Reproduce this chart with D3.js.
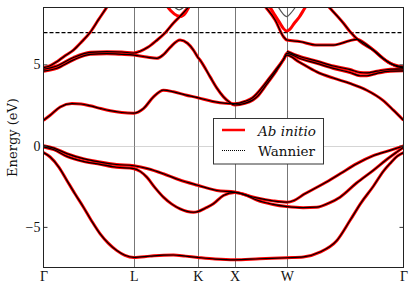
<!DOCTYPE html>
<html>
<head>
<meta charset="utf-8">
<script src="https://cdn.jsdelivr.net/npm/d3@7"></script>
<style>
body { margin:0; background:#fff; }
</style>
</head>
<body>
<div id="svgcontainer"></div>
<script>
var width = 415;
var height = 291;

// high symmetry points on the k-path
var kLabels = ["Γ", "L", "K", "X", "W", "Γ"];
var kTicks = [0, 0.866, 1.478, 1.832, 2.332, 3.450];

var yTicks = [-5, 0, 5];
var fermiLevel = 0;
var windowTop = 6.95;

// bands: [k, energy]; null = outside the plot (gap)
var bandV0 = [[0,-0.43],[0.064,-0.7],[0.15,-1.35],[0.224,-2.14],[0.30,-2.95],[0.383,-3.79],[0.46,-4.62],[0.543,-5.43],[0.62,-6.0],[0.703,-6.46],[0.78,-6.75],[0.866,-6.88],[1.02,-6.8],[1.15,-6.74],[1.245,-6.73],[1.36,-6.8],[1.478,-6.88],[1.645,-6.98],[1.832,-7.03],[2.07,-6.96],[2.332,-6.9],[2.49,-6.85],[2.65,-6.55],[2.81,-5.85],[2.937,-4.61],[3.04,-3.55],[3.161,-2.5],[3.26,-1.55],[3.321,-1.1],[3.39,-0.65],[3.45,-0.43]];
var bandV1 = [[0,-0.08],[0.1,-0.25],[0.224,-0.66],[0.38,-0.97],[0.543,-1.15],[0.7,-1.33],[0.866,-1.42],[0.93,-1.6],[0.99,-1.94],[1.07,-2.6],[1.149,-3.17],[1.23,-3.6],[1.309,-3.89],[1.437,-4.1],[1.478,-4.06],[1.55,-3.85],[1.628,-3.58],[1.724,-3.07],[1.832,-2.88],[1.94,-3.05],[2.044,-3.35],[2.2,-3.62],[2.332,-3.75],[2.488,-3.82],[2.619,-3.79],[2.73,-3.55],[2.842,-3.17],[3.0,-2.3],[3.161,-1.52],[3.28,-0.9],[3.385,-0.4],[3.45,-0.1]];
var bandV2 = [[0,0],[0.1,-0.15],[0.224,-0.49],[0.38,-0.8],[0.543,-1.01],[0.7,-1.16],[0.866,-1.24],[1.0,-1.42],[1.149,-1.73],[1.3,-2.1],[1.478,-2.44],[1.661,-2.76],[1.832,-2.86],[2.044,-3.22],[2.2,-3.4],[2.332,-3.48],[2.4,-3.38],[2.5,-2.98],[2.682,-2.35],[2.85,-1.7],[3.002,-1.11],[3.16,-0.62],[3.321,-0.29],[3.45,-0.02]];
var bandC0 = [[0,1.56],[0.064,1.87],[0.16,2.38],[0.272,2.59],[0.36,2.56],[0.447,2.45],[0.55,2.28],[0.639,2.15],[0.75,2.04],[0.866,2.0],[0.958,2.28],[1.054,3.0],[1.15,3.41],[1.246,3.31],[1.36,3.12],[1.478,2.95],[1.62,2.72],[1.75,2.6],[1.832,2.58],[1.93,2.72],[2.004,2.95],[2.045,3.2],[2.141,3.95],[2.17,4.2],[2.236,4.75],[2.3,5.3],[2.332,5.57],[2.45,5.15],[2.619,4.54],[2.78,4.15],[2.937,3.83],[3.098,3.41],[3.25,2.8],[3.353,2.18],[3.45,1.56]];
var bandC1 = [[0,4.58],[0.128,4.76],[0.287,5.28],[0.447,5.62],[0.607,5.66],[0.75,5.62],[0.866,5.57],[0.99,5.45],[1.086,5.37],[1.15,5.6],[1.214,6.05],[1.309,6.5],[1.38,6.3],[1.437,5.88],[1.478,5.45],[1.5,5.27],[1.597,4.23],[1.66,3.55],[1.725,3.0],[1.78,2.68],[1.832,2.5],[1.93,2.6],[2.004,2.8],[2.045,3.0],[2.141,3.8],[2.17,4.05],[2.236,4.65],[2.3,5.3],[2.332,5.68],[2.45,5.38],[2.62,5.06],[2.779,4.75],[2.938,4.5],[3.034,4.3],[3.1,4.3],[3.195,4.45],[3.322,4.58],[3.45,4.6]];
var bandC2 = [[0,4.7],[0.128,4.9],[0.287,5.42],[0.447,5.74],[0.607,5.78],[0.75,5.76],[0.866,5.7],[0.93,5.82],[1.0,6.05],[1.08,6.45],[1.167,6.95],[1.246,7.55],[1.33,8.1],[1.40,8.6],[1.45,9.0],[1.5,null],[2.05,null],[2.09,8.85],[2.125,8.56],[2.22,7.73],[2.30,6.7],[2.332,6.5],[2.458,6.4],[2.619,6.19],[2.778,6.19],[2.937,6.46],[3.002,6.54],[3.098,6.2],[3.257,5.35],[3.385,4.88],[3.45,4.78]];
var bandC3 = [[0,4.8],[0.064,4.92],[0.128,5.16],[0.2,5.5],[0.287,5.88],[0.367,6.4],[0.447,6.97],[0.527,7.75],[0.607,8.52],[0.64,8.85],[0.7,null],[2.65,null],[2.69,8.85],[2.731,8.56],[2.875,7.53],[2.938,7.01],[3.034,6.4],[3.162,5.88],[3.322,5.06],[3.40,4.9],[3.45,4.85]];
var bandC4 = [[2.332,5.8],[2.45,5.5],[2.62,5.2],[2.779,4.9],[2.938,4.68],[3.034,4.5],[3.1,4.48],[3.195,4.58],[3.322,4.7],[3.45,4.72]];

// parts only one method has (above the frozen window)
var abOnlyW = [[2.14,8.8],[2.172,8.5],[2.22,8.0],[2.27,7.5],[2.30,7.2],[2.332,7.05],[2.36,7.15],[2.40,7.5],[2.45,7.9],[2.508,8.5],[2.54,8.8]];
var abOnlyLK = [[1.16,8.8],[1.22,8.3],[1.28,8.0],[1.32,7.95],[1.36,8.15],[1.40,8.6],[1.43,8.9]];
var wanOnlyW = [[2.24,8.62],[2.252,8.5],[2.29,8.15],[2.332,7.94],[2.37,8.15],[2.412,8.5],[2.425,8.62]];
var wanOnlyLK = [[1.23,8.7],[1.26,8.5],[1.30,8.35],[1.34,8.5],[1.37,8.7]];

var sharedBands = [bandV0, bandV1, bandV2, bandC0, bandC1, bandC2, bandC3, bandC4];
var abInitioBands = sharedBands.concat([abOnlyW, abOnlyLK]);
var wannierBands = sharedBands;
var wannierExtra = [wanOnlyW, wanOnlyLK];

var pLeft = 43.5, pRight = 403.5, pTop = 7.5, pBottom = 267.5;

var x = d3.scaleLinear().domain([0, 3.45]).range([pLeft, pRight]);
var y = d3.scaleLinear().domain([-7.5, 8.5]).range([pBottom, pTop]);

var svg = d3.select("#svgcontainer")
   .append("svg")
   .attr("width", width)
   .attr("height", height)
   .style("display", "block");

svg.append("defs").append("clipPath")
   .attr("id", "plotclip")
   .append("rect")
   .attr("x", pLeft).attr("y", pTop)
   .attr("width", pRight - pLeft).attr("height", pBottom - pTop);

// vertical lines at the special points
svg.append("g")
   .selectAll("line")
   .data(kTicks.slice(1, -1))
   .join("line")
   .attr("x1", d => Math.round(x(d)) + 0.5)
   .attr("x2", d => Math.round(x(d)) + 0.5)
   .attr("y1", pTop)
   .attr("y2", pBottom)
   .attr("stroke", "#777")
   .attr("stroke-width", 1);

// fermi level
svg.append("line")
   .attr("x1", pLeft).attr("x2", pRight)
   .attr("y1", Math.round(y(fermiLevel)) + 0.5)
   .attr("y2", Math.round(y(fermiLevel)) + 0.5)
   .attr("stroke", "#aaa")
   .attr("stroke-dasharray", "1,1");

// frozen window
svg.append("line")
   .attr("x1", pLeft).attr("x2", pRight)
   .attr("y1", y(windowTop)).attr("y2", y(windowTop))
   .attr("stroke", "#000")
   .attr("stroke-width", 1.2)
   .attr("stroke-dasharray", "4,2");

var line = d3.line()
   .defined(d => d[1] != null)
   .x(d => x(d[0]))
   .y(d => y(d[1]))
   .curve(d3.curveMonotoneX);

var bands = svg.append("g").attr("clip-path", "url(#plotclip)");

bands.selectAll("path.ab")
   .data(abInitioBands)
   .join("path")
   .attr("class", "ab")
   .attr("d", line)
   .attr("fill", "none")
   .attr("stroke", "#ff0000")
   .attr("stroke-width", 3);

bands.selectAll("path.wan")
   .data(wannierBands)
   .join("path")
   .attr("class", "wan")
   .attr("d", line)
   .attr("fill", "none")
   .attr("stroke", "#000")
   .attr("stroke-width", 1.2);

bands.selectAll("path.wanx")
   .data(wannierExtra)
   .join("path")
   .attr("class", "wanx")
   .attr("d", line)
   .attr("fill", "none")
   .attr("stroke", "#555")
   .attr("stroke-width", 1.2);

// axes
var yAxis = svg.append("g")
   .attr("transform", "translate(" + pLeft + ",0)")
   .call(d3.axisLeft(y).tickValues(yTicks).tickSizeInner(-4).tickSizeOuter(0).tickPadding(3));
yAxis.select(".domain").remove();
yAxis.selectAll("line").attr("stroke", "#333");
yAxis.selectAll("text")
   .attr("font-family", "Liberation Serif")
   .attr("font-size", 14)
   .attr("fill", "#111");

var yAxisR = svg.append("g")
   .attr("transform", "translate(" + pRight + ",0)")
   .call(d3.axisRight(y).tickValues(yTicks).tickSizeInner(-4).tickSizeOuter(0).tickFormat(""));
yAxisR.select(".domain").remove();
yAxisR.selectAll("line").attr("stroke", "#333");

var xAxis = svg.append("g")
   .attr("transform", "translate(0," + pBottom + ")")
   .call(d3.axisBottom(x).tickValues(kTicks).tickFormat((d, i) => kLabels[i]).tickSizeInner(0).tickSizeOuter(0).tickPadding(3.5));
xAxis.select(".domain").remove();
xAxis.selectAll("text")
   .attr("font-family", "Liberation Serif")
   .attr("font-size", 14)
   .attr("fill", "#111");

// frame
svg.append("rect")
   .attr("x", pLeft).attr("y", pTop)
   .attr("width", pRight - pLeft).attr("height", pBottom - pTop)
   .attr("fill", "none")
   .attr("stroke", "#222")
   .attr("stroke-width", 1);

svg.append("text")
   .attr("transform", "translate(17," + ((pTop + pBottom) / 2) + ") rotate(-90)")
   .attr("text-anchor", "middle")
   .attr("font-family", "DejaVu Serif")
   .attr("font-size", 13)
   .attr("fill", "#111")
   .text("Energy (eV)");

// legend
var legend = svg.append("g");

legend.append("rect")
   .attr("x", 213.5).attr("y", 118.5)
   .attr("width", 110).attr("height", 45.5)
   .attr("fill", "#fff")
   .attr("stroke", "#333");

legend.append("line")
   .attr("x1", 222).attr("x2", 245)
   .attr("y1", 130).attr("y2", 130)
   .attr("stroke", "#ff0000")
   .attr("stroke-width", 2.5);

legend.append("line")
   .attr("x1", 222).attr("x2", 245)
   .attr("y1", 150.5).attr("y2", 150.5)
   .attr("stroke", "#000")
   .attr("stroke-dasharray", "1,1");

legend.append("text")
   .attr("x", 258).attr("y", 135.5)
   .attr("font-family", "DejaVu Serif")
   .attr("font-style", "italic")
   .attr("font-size", 13.5)
   .attr("fill", "#111")
   .text("Ab initio");

legend.append("text")
   .attr("x", 258).attr("y", 156)
   .attr("font-family", "DejaVu Serif")
   .attr("font-size", 13.5)
   .attr("fill", "#111")
   .text("Wannier");
</script>
</body>
</html>
